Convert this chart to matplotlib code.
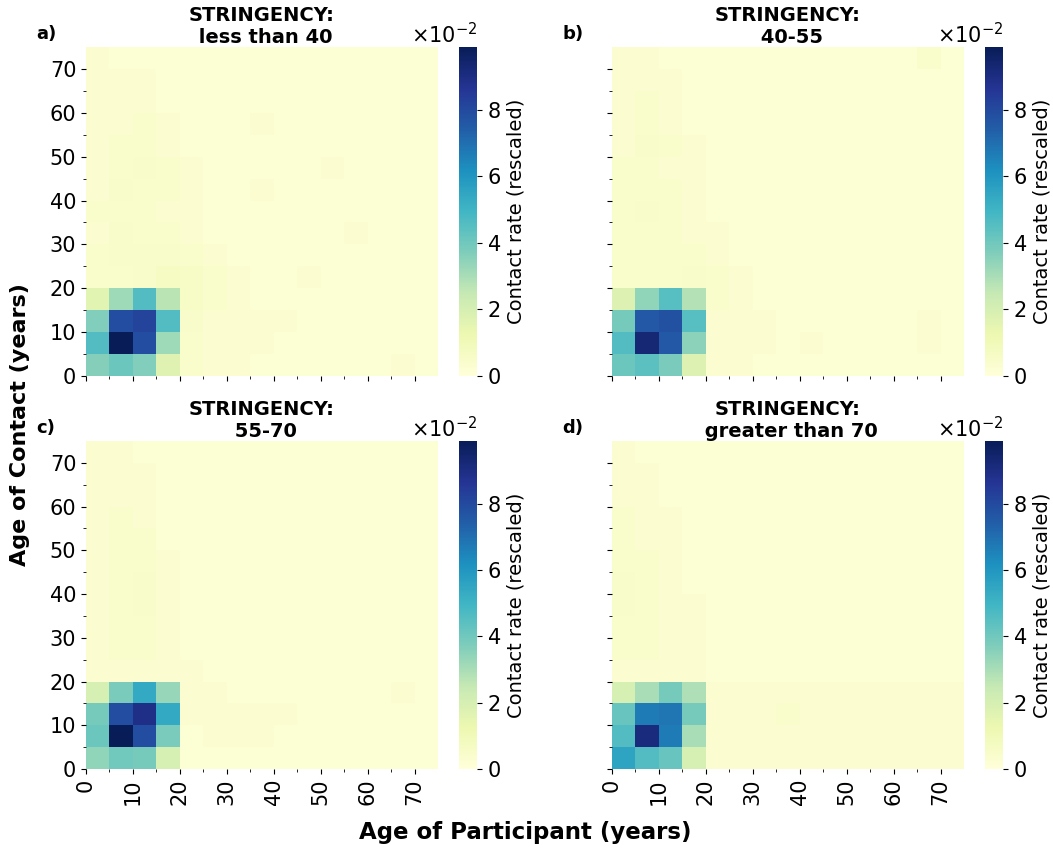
import numpy as np
import matplotlib
matplotlib.use("Agg")
import matplotlib.pyplot as plt

# age bins (years), 5-year groups
age_edges = [0, 5, 10, 15, 20, 25, 30, 35, 40, 45, 50, 55, 60, 65, 70, 75]
panel_letters = ["a)", "b)", "c)", "d)"]
panel_titles = ["STRINGENCY:\n less than 40", "STRINGENCY:\n 40-55",
                "STRINGENCY:\n 55-70", "STRINGENCY:\n greater than 70"]

# contact rates (x 1e-3), rows = age of contact (0 at bottom), cols = age of participant
rates_a = [
    [36, 41, 37, 17, 4, 3, 3, 2, 2, 2, 2, 2, 2, 3, 2],
    [46, 99, 79, 32, 4, 3, 3, 3, 2, 2, 2, 2, 2, 2, 2],
    [37, 79, 82, 46, 5, 3, 3, 3, 3, 2, 2, 2, 2, 2, 2],
    [16, 32, 46, 27, 6, 4, 3, 2, 2, 2, 2, 2, 2, 2, 2],
    [4, 4, 5, 7, 6, 4, 3, 2, 2, 3, 2, 2, 2, 2, 2],
    [4, 5, 5, 5, 4, 3, 2, 2, 2, 2, 2, 2, 2, 2, 2],
    [3, 5, 4, 4, 3, 2, 2, 2, 2, 2, 2, 3, 2, 2, 2],
    [4, 4, 4, 3, 3, 2, 2, 2, 2, 2, 2, 2, 2, 2, 2],
    [3, 5, 4, 4, 3, 2, 2, 3, 2, 2, 2, 2, 2, 2, 2],
    [3, 4, 5, 4, 3, 2, 2, 2, 2, 2, 3, 2, 2, 2, 2],
    [3, 4, 4, 3, 2, 2, 2, 2, 2, 2, 2, 2, 2, 2, 2],
    [3, 3, 4, 3, 2, 2, 2, 3, 2, 2, 2, 2, 2, 2, 2],
    [3, 3, 3, 2, 2, 2, 2, 2, 2, 2, 2, 2, 2, 2, 2],
    [3, 3, 3, 2, 2, 2, 2, 2, 2, 2, 2, 2, 2, 2, 2],
    [3, 2, 2, 2, 2, 2, 2, 2, 2, 2, 2, 2, 2, 2, 2],
]
rates_b = [
    [41, 44, 38, 18, 3, 3, 2, 2, 2, 2, 2, 2, 2, 2, 2],
    [46, 93, 76, 35, 3, 3, 3, 2, 3, 2, 2, 2, 2, 3, 2],
    [39, 76, 78, 45, 3, 3, 3, 2, 2, 2, 2, 2, 2, 3, 2],
    [18, 34, 45, 28, 4, 3, 2, 2, 2, 2, 2, 2, 2, 2, 2],
    [4, 4, 4, 5, 4, 3, 2, 2, 2, 2, 2, 2, 2, 2, 2],
    [4, 4, 4, 4, 3, 2, 2, 2, 2, 2, 2, 2, 2, 2, 2],
    [4, 4, 4, 3, 3, 2, 2, 2, 2, 2, 2, 2, 2, 2, 2],
    [4, 5, 4, 3, 2, 2, 2, 2, 2, 2, 2, 2, 2, 2, 2],
    [4, 4, 4, 3, 2, 2, 2, 2, 2, 2, 2, 2, 2, 2, 2],
    [4, 4, 3, 3, 2, 2, 2, 2, 2, 2, 2, 2, 2, 2, 2],
    [3, 5, 4, 3, 2, 2, 2, 2, 2, 2, 2, 2, 2, 2, 2],
    [3, 4, 3, 2, 2, 2, 2, 2, 2, 2, 2, 2, 2, 2, 2],
    [3, 4, 3, 2, 2, 2, 2, 2, 2, 2, 2, 2, 2, 2, 2],
    [3, 3, 3, 2, 2, 2, 2, 2, 2, 2, 2, 2, 2, 2, 2],
    [3, 3, 2, 2, 2, 2, 2, 2, 2, 2, 2, 2, 2, 4, 2],
]
rates_c = [
    [34, 40, 39, 20, 2, 2, 2, 2, 2, 2, 2, 2, 2, 2, 2],
    [41, 99, 79, 38, 2, 3, 3, 3, 2, 2, 2, 2, 2, 2, 2],
    [39, 79, 89, 54, 3, 3, 3, 3, 3, 2, 2, 2, 2, 2, 2],
    [20, 38, 54, 33, 3, 3, 2, 2, 2, 2, 2, 2, 2, 3, 2],
    [3, 3, 3, 3, 3, 2, 2, 2, 2, 2, 2, 2, 2, 2, 2],
    [3, 4, 4, 3, 2, 2, 2, 2, 2, 2, 2, 2, 2, 2, 2],
    [3, 4, 4, 3, 2, 2, 2, 2, 2, 2, 2, 2, 2, 2, 2],
    [3, 4, 5, 3, 2, 2, 2, 2, 2, 2, 2, 2, 2, 2, 2],
    [3, 4, 5, 3, 2, 2, 2, 2, 2, 2, 2, 2, 2, 2, 2],
    [3, 4, 4, 3, 2, 2, 2, 2, 2, 2, 2, 2, 2, 2, 2],
    [3, 4, 4, 2, 2, 2, 2, 2, 2, 2, 2, 2, 2, 2, 2],
    [3, 4, 3, 2, 2, 2, 2, 2, 2, 2, 2, 2, 2, 2, 2],
    [3, 3, 3, 2, 2, 2, 2, 2, 2, 2, 2, 2, 2, 2, 2],
    [3, 3, 3, 2, 2, 2, 2, 2, 2, 2, 2, 2, 2, 2, 2],
    [3, 3, 2, 2, 2, 2, 2, 2, 2, 2, 2, 2, 2, 2, 2],
]
rates_d = [
    [56, 46, 42, 20, 3, 3, 3, 3, 3, 3, 3, 3, 3, 3, 3],
    [46, 91, 67, 30, 3, 3, 3, 3, 3, 3, 3, 3, 3, 3, 3],
    [42, 67, 68, 39, 3, 3, 3, 4, 3, 3, 3, 3, 3, 3, 3],
    [20, 30, 39, 29, 3, 3, 3, 3, 3, 3, 3, 3, 3, 3, 3],
    [3, 3, 3, 3, 2, 2, 2, 2, 2, 2, 2, 2, 2, 2, 2],
    [4, 4, 3, 3, 2, 2, 2, 2, 2, 2, 2, 2, 2, 2, 2],
    [4, 4, 3, 3, 2, 2, 2, 2, 2, 2, 2, 2, 2, 2, 2],
    [5, 4, 3, 3, 2, 2, 2, 2, 2, 2, 2, 2, 2, 2, 2],
    [5, 4, 3, 2, 2, 2, 2, 2, 2, 2, 2, 2, 2, 2, 2],
    [4, 4, 3, 2, 2, 2, 2, 2, 2, 2, 2, 2, 2, 2, 2],
    [4, 3, 3, 2, 2, 2, 2, 2, 2, 2, 2, 2, 2, 2, 2],
    [4, 3, 3, 2, 2, 2, 2, 2, 2, 2, 2, 2, 2, 2, 2],
    [3, 3, 2, 2, 2, 2, 2, 2, 2, 2, 2, 2, 2, 2, 2],
    [3, 3, 2, 2, 2, 2, 2, 2, 2, 2, 2, 2, 2, 2, 2],
    [3, 2, 2, 2, 2, 2, 2, 2, 2, 2, 2, 2, 2, 2, 2],
]

panels = [np.array(m) * 1e-3 for m in (rates_a, rates_b, rates_c, rates_d)]
vmax = 0.0989

W, H = 1053, 852
fig = plt.figure(figsize=(W / 100, H / 100), dpi=100)

# pixel boxes (left, top, width, height)
heat_boxes = [(86, 47, 352, 329), (612, 47, 352, 329),
              (86, 441, 352, 328), (612, 441, 352, 328)]
cbar_dx = 373
cbar_w = 18

def to_fig(l, t, w, h):
    return [l / W, 1 - (t + h) / H, w / W, h / H]

for i, (mat, box) in enumerate(zip(panels, heat_boxes)):
    l, t, w, h = box
    ax = fig.add_axes(to_fig(l, t, w, h))
    cax = fig.add_axes(to_fig(l + cbar_dx, t, cbar_w, h))
    mesh = ax.pcolormesh(age_edges, age_edges, mat, cmap="YlGnBu", vmin=0, vmax=vmax)
    ax.set_xlim(0, 75)
    ax.set_ylim(0, 75)
    for s in ax.spines.values():
        s.set_visible(False)
    ax.set_xticks(range(0, 75, 10))
    ax.set_yticks(range(0, 75, 10))
    ax.set_xticks(range(5, 75, 10), minor=True)
    ax.set_yticks(range(5, 75, 10), minor=True)
    ax.tick_params(which="major", labelsize=15, length=3.5)
    ax.tick_params(which="minor", length=2)
    ax.tick_params(axis="x", labelrotation=90)
    if i < 2:
        ax.set_xticklabels([])
    if i % 2 == 1:
        ax.set_yticklabels([])
    ax.set_title(panel_titles[i], fontsize=14, fontweight="bold", pad=3)
    fig.text((l - 50) / W, 1 - (t - 13) / H, panel_letters[i],
             fontsize=13, fontweight="bold", va="center", ha="left")

    cb = fig.colorbar(mesh, cax=cax)
    cb.outline.set_visible(False)
    cb.set_ticks([0, 0.02, 0.04, 0.06, 0.08])
    cb.formatter.set_useMathText(True)
    cb.formatter.set_powerlimits((-1, 1))
    cb.ax.tick_params(labelsize=15, length=3.5)
    cb.ax.yaxis.get_offset_text().set_fontsize(15)
    cb.set_label("Contact rate (rescaled)", fontsize=14)

fig.text(525 / W, 1 - 832 / H, "Age of Participant (years)", fontsize=16.5,
         fontweight="bold", ha="center", va="center")
fig.text(20 / W, 1 - 425 / H, "Age of Contact (years)", fontsize=16,
         fontweight="bold", ha="center", va="center", rotation=90)

fig.savefig("out.png", dpi=100)
